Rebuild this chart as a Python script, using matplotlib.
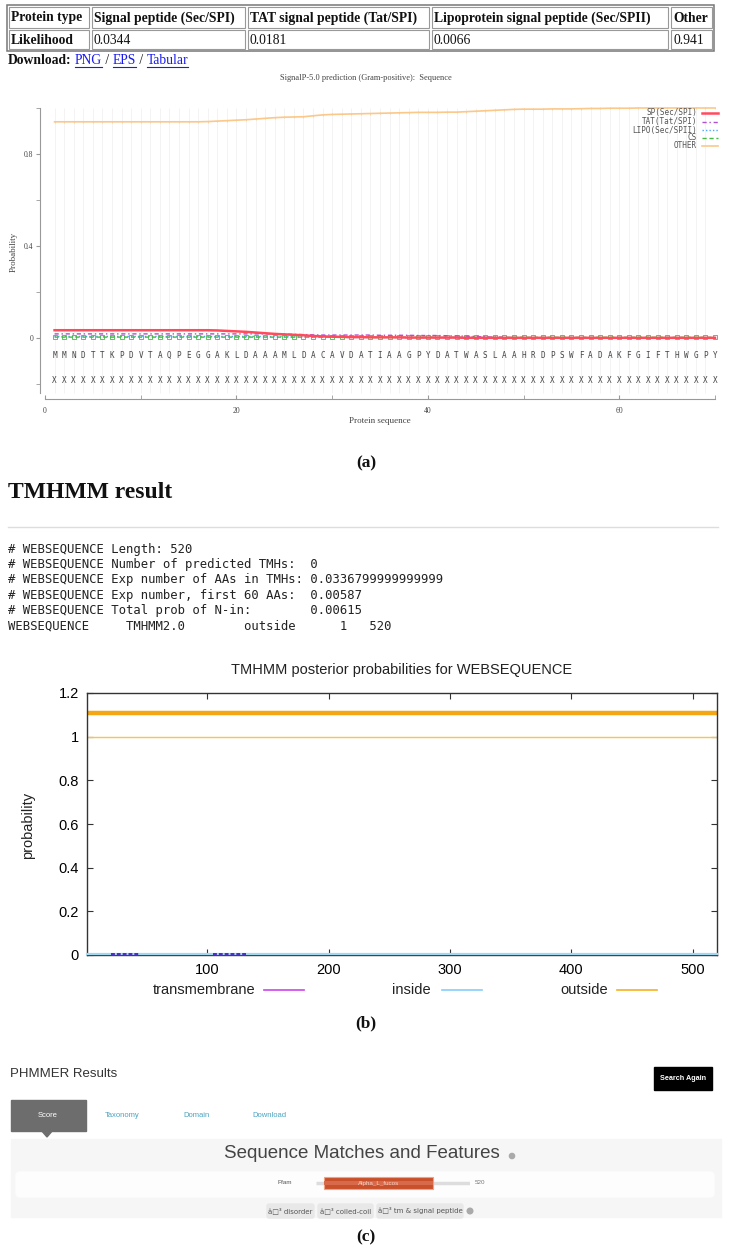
import matplotlib
matplotlib.use("Agg")
import matplotlib.pyplot as plt
from matplotlib.patches import Rectangle, Polygon, FancyBboxPatch, Circle
from matplotlib import font_manager

# ---- data -------------------------------------------------------------
protein_types = ["Signal peptide (Sec/SPI)", "TAT signal peptide (Tat/SPI)",
                 "Lipoprotein signal peptide (Sec/SPII)", "Other"]
likelihoods = ["0.0344", "0.0181", "0.0066", "0.941"]

sequence = "MMNDTTKPDVTAQPEGGAKLDAAAMLDACAVDATIAAGPYDATWASLAAHRDPSWFADAKFGIFTHWGPY"
positions = list(range(1, 71))

sp = [0.034, 0.034, 0.034, 0.034, 0.034, 0.034, 0.034, 0.034, 0.034, 0.034,
      0.034, 0.034, 0.034, 0.034, 0.034, 0.034, 0.034, 0.033, 0.031, 0.029,
      0.027, 0.024, 0.021, 0.018, 0.016, 0.014, 0.012, 0.009, 0.007, 0.006,
      0.005, 0.004, 0.004, 0.003, 0.003, 0.003, 0.003, 0.002, 0.002, 0.002,
      0.002, 0.002, 0.002, 0.001, 0.001, 0.001, 0.001, 0.001, 0.001, 0.001,
      0.001, 0.001, 0.001, 0.001, 0.001, 0.001, 0.001, 0.001, 0.001, 0.001,
      0.001, 0.001, 0.001, 0.001, 0.001, 0.001, 0.001, 0.001, 0.001, 0.001]
tat = [0.018, 0.018, 0.018, 0.018, 0.018, 0.018, 0.018, 0.018, 0.018, 0.018,
       0.018, 0.018, 0.018, 0.018, 0.018, 0.018, 0.018, 0.018, 0.018, 0.018,
       0.018, 0.018, 0.018, 0.018, 0.017, 0.016, 0.015, 0.014, 0.013, 0.013,
       0.013, 0.013, 0.013, 0.013, 0.012, 0.012, 0.012, 0.012, 0.011, 0.011,
       0.011, 0.010, 0.009, 0.008, 0.007, 0.005, 0.004, 0.003, 0.002, 0.002,
       0.001, 0.001, 0.001, 0.001, 0.001, 0.001, 0.001, 0.001, 0.001, 0.001,
       0.001, 0.001, 0.001, 0.001, 0.001, 0.001, 0.001, 0.001, 0.001, 0.001]
lipo = [0.007, 0.007, 0.007, 0.007, 0.007, 0.007, 0.007, 0.007, 0.007, 0.007,
        0.007, 0.007, 0.007, 0.007, 0.007, 0.007, 0.007, 0.007, 0.007, 0.007,
        0.007, 0.007, 0.007, 0.006, 0.006, 0.005, 0.005, 0.004, 0.004, 0.003,
        0.003, 0.003, 0.003, 0.003, 0.003, 0.003, 0.002, 0.002, 0.002, 0.002,
        0.002, 0.002, 0.002, 0.002, 0.002, 0.001, 0.001, 0.001, 0.001, 0.001,
        0.001, 0.001, 0.001, 0.001, 0.001, 0.001, 0.001, 0.001, 0.001, 0.001,
        0.001, 0.001, 0.001, 0.001, 0.001, 0.001, 0.001, 0.001, 0.001, 0.001]
cs = [0.004, 0.004, 0.004, 0.004, 0.004, 0.004, 0.004, 0.004, 0.004, 0.004,
      0.004, 0.004, 0.004, 0.004, 0.004, 0.004, 0.004, 0.004, 0.004, 0.004,
      0.004, 0.004, 0.004, 0.004, 0.004, 0.004, 0.004, 0.004, 0.004, 0.004,
      0.003, 0.003, 0.003, 0.003, 0.003, 0.003, 0.003, 0.003, 0.003, 0.003,
      0.003, 0.003, 0.003, 0.003, 0.003, 0.003, 0.003, 0.003, 0.003, 0.003,
      0.003, 0.003, 0.003, 0.003, 0.003, 0.003, 0.003, 0.003, 0.003, 0.003,
      0.003, 0.003, 0.003, 0.003, 0.003, 0.003, 0.003, 0.003, 0.003, 0.003]
other = [0.940, 0.940, 0.940, 0.940, 0.940, 0.940, 0.940, 0.940, 0.940, 0.940,
         0.940, 0.940, 0.940, 0.940, 0.940, 0.940, 0.941, 0.943, 0.945, 0.947,
         0.949, 0.952, 0.955, 0.958, 0.960, 0.961, 0.962, 0.966, 0.970, 0.972,
         0.973, 0.974, 0.975, 0.976, 0.977, 0.978, 0.979, 0.980, 0.981, 0.981,
         0.981, 0.982, 0.982, 0.984, 0.986, 0.988, 0.990, 0.992, 0.994, 0.995,
         0.995, 0.995, 0.996, 0.996, 0.996, 0.997, 0.998, 0.998, 0.999, 0.999,
         0.999, 1.000, 1.000, 1.000, 1.000, 1.000, 1.000, 1.000, 1.000, 1.000]

tmhmm_lines = [
    "# WEBSEQUENCE Length: 520",
    "# WEBSEQUENCE Number of predicted TMHs:  0",
    "# WEBSEQUENCE Exp number of AAs in TMHs: 0.0336799999999999",
    "# WEBSEQUENCE Exp number, first 60 AAs:  0.00587",
    "# WEBSEQUENCE Total prob of N-in:        0.00615",
    "WEBSEQUENCE     TMHMM2.0        outside      1   520",
]
seq_len = 520
outside_pos = [1, 520]
outside_prob = [0.998, 0.998]
inside_prob = [0.004, 0.004]
tm_starts = [21, 105]
tm_ends = [45, 132]
tm_prob = [0.006, 0.006]
outside_band = 1.11

pfam_start, pfam_end = 28, 396
pfam_name = "Alpha_L_fucos"

# ---- setup ------------------------------------------------------------
W, H = 733, 1251
fig = plt.figure(figsize=(W / 100, H / 100), dpi=100)

SERIF = "Liberation Serif"
SANS = "Liberation Sans"
MONO = "DejaVu Sans Mono"
names = {f.name for f in font_manager.fontManager.ttflist}
NARROW = "Liberation Sans Narrow" if "Liberation Sans Narrow" in names else SANS


def px_axes(x0, y0, x1, y1):
    return fig.add_axes([x0 / W, 1 - y1 / H, (x1 - x0) / W, (y1 - y0) / H])


# ---- (a) SignalP plot ---------------------------------------------------
ax = px_axes(45, 108, 715, 399)
ax.set_facecolor("none")
ax.set_xlim(0, 70)
ax.set_ylim(-0.265, 1.0)
ax.vlines(positions, -0.24, 1.0, color="#efefef", lw=0.5, zorder=0)

styles = {
    "SP(Sec/SPI)": dict(color="#ff4b5c", lw=1.8, ls="-"),
    "TAT(Tat/SPI)": dict(color="#b04fd0", lw=1.0, ls=(0, (3, 2, 1, 2))),
    "LIPO(Sec/SPII)": dict(color="#49a8ff", lw=1.0, ls=(0, (1, 1.5))),
    "CS": dict(color="#44bb44", lw=1.0, ls=(0, (3, 2))),
    "OTHER": dict(color="#fbc88a", lw=1.2, ls="-"),
}
series = {"SP(Sec/SPI)": sp, "TAT(Tat/SPI)": tat, "LIPO(Sec/SPII)": lipo,
          "CS": cs, "OTHER": other}
for name in ["OTHER", "LIPO(Sec/SPII)", "CS", "TAT(Tat/SPI)", "SP(Sec/SPI)"]:
    kw = dict(styles[name])
    if name == "CS":
        kw.update(marker="s", ms=2.2, mfc="none", mew=0.6)
    if name == "OTHER":
        kw.update(marker="|", ms=1.5, mew=0.5)
    ax.plot(positions, series[name], clip_on=False, **kw)

for p, ch in zip(positions, sequence):
    ax.text(p, -0.076, ch, ha="center", va="center", fontsize=5.5,
            family=MONO, color="#444444")
    ax.text(p, -0.184, "X", ha="center", va="center", fontsize=5.5,
            family=MONO, color="#444444")

for s in ["top", "right"]:
    ax.spines[s].set_visible(False)
ax.spines["left"].set_position(("outward", 3.6))
ax.spines["left"].set_bounds(-0.24, 1.0)
for s in ["left", "bottom"]:
    ax.spines[s].set_color("#999999")
    ax.spines[s].set_linewidth(0.8)
ax.set_yticks([0, 0.4, 0.8])
ax.set_yticklabels(["0", "0.4", "0.8"])
ax.set_yticks([-0.2, 0.2, 0.6, 1.0], minor=True)
ax.set_xticks([0, 20, 40, 60])
ax.set_xticks([10, 30, 50, 70], minor=True)
ax.tick_params(axis="y", which="both", direction="out", length=3,
               color="#999999", labelsize=5.5, labelcolor="#444444", pad=2)
ax.tick_params(axis="x", which="both", direction="in", length=3,
               color="#999999", labelsize=5.5, labelcolor="#444444", pad=6)
for lab in ax.get_xticklabels() + ax.get_yticklabels():
    lab.set_family(SERIF)

# ---- (b) TMHMM plot -----------------------------------------------------
bx = px_axes(87, 693, 717, 955)
bx.set_facecolor("none")
bx.set_xlim(1, seq_len)
bx.set_ylim(0, 1.2)
bx.hlines(outside_band, 1, seq_len, color="#f4a713", lw=3.2)
bx.plot(outside_pos, outside_prob, color="#f7c548", lw=1.0)
bx.plot(outside_pos, inside_prob, color="#9fd8f0", lw=1.6, clip_on=False,
        zorder=3)
bx.hlines(tm_prob, tm_starts, tm_ends, color="#4b2bd0", lw=1.4,
          linestyles=(0, (2, 1)), zorder=4)
bx.set_xticks([100, 200, 300, 400, 500])
bx.set_yticks([0, 0.2, 0.4, 0.6, 0.8, 1.0, 1.2])
bx.set_yticklabels(["0", "0.2", "0.4", "0.6", "0.8", "1", "1.2"])
bx.tick_params(which="both", direction="in", length=4, top=True, right=True,
               labelsize=10.5, pad=6, color="#333333")
for lab in bx.get_xticklabels() + bx.get_yticklabels():
    lab.set_family(NARROW)
for s in bx.spines.values():
    s.set_color("#333333")
    s.set_linewidth(1.0)

# ---- overlay in pixel coordinates ---------------------------------------
ov = fig.add_axes([0, 0, 1, 1])
ov.set_xlim(0, W)
ov.set_ylim(H, 0)
ov.axis("off")
ov.set_zorder(10)

# ---- (c) Pfam track (above overlay) -------------------------------------
cx = px_axes(316, 1174, 470, 1192)
cx.set_zorder(11)
cx.set_facecolor("none")
cx.set_xlim(1, seq_len)
cx.set_ylim(-1, 1)
cx.axis("off")
cx.plot([1, seq_len], [0, 0], color="#dddddd", lw=2.5, solid_capstyle="butt",
        zorder=1)
cx.barh(0, pfam_end - pfam_start, left=pfam_start, height=1.25,
        color="#c8512b", edgecolor="#f2a183", lw=0.8, zorder=3)
cx.barh(0, pfam_end - pfam_start, left=pfam_start, height=0.35,
        color="#d8694a", lw=0, zorder=3.5)
cx.text((pfam_start + pfam_end) / 2, 0, pfam_name, ha="center", va="center",
        fontsize=4.5, color="#f6d3c6", family=SANS, zorder=4)

# HTML table
ov.add_patch(Rectangle((7, 5), 707, 46, fill=False, ec="#777777", lw=1.1))
cols = [(9, 89), (92, 245), (248, 429), (432, 668), (671, 712)]
rows = [(7, 28), (30, 49)]
for (y0, y1) in rows:
    for (x0, x1) in cols:
        ov.add_patch(Rectangle((x0, y0), x1 - x0, y1 - y0, fill=False,
                               ec="#999999", lw=0.8))
header = ["Protein type"] + protein_types
values = ["Likelihood"] + likelihoods
for i, (x0, x1) in enumerate(cols):
    ov.text(x0 + 2, 18, header[i], fontsize=9.8, family=SERIF,
            weight="bold", va="center", color="#111111")
    ov.text(x0 + 2, 40, values[i], fontsize=9.8, family=SERIF,
            weight="bold" if i == 0 else "normal", va="center",
            color="#111111")

# download links
renderer = fig.canvas.get_renderer()
xcur = 8
parts = [("Download:", "#111111", True, False), (" ", None, False, False),
         ("PNG", "#1a1aee", False, True), (" / ", "#111111", False, False),
         ("EPS", "#1a1aee", False, True), (" / ", "#111111", False, False),
         ("Tabular", "#1a1aee", False, True)]
for txt, col, bold, link in parts:
    t = ov.text(xcur, 60, txt, fontsize=9.8, family=SERIF, va="center",
                color=col or "#111111", weight="bold" if bold else "normal")
    bb = t.get_window_extent(renderer)
    if link:
        ov.plot([bb.x0, bb.x1], [67, 67], color=col, lw=0.8)
    xcur = bb.x1

ov.text(366, 78, "SignalP-5.0 prediction (Gram-positive):  Sequence",
        fontsize=6, family=SERIF, color="#444444", ha="center", va="center")
ov.text(14, 252, "Probability", rotation=90, fontsize=6.5, family=SERIF,
        color="#444444", ha="center", va="center")
ov.text(380, 421, "Protein sequence", fontsize=6.5, family=SERIF,
        color="#444444", ha="center", va="center")

# SignalP legend
leg_y = [113, 121.5, 130, 138, 146]
for name, yy in zip(styles.keys(), leg_y):
    ov.text(697, yy, name, ha="right", va="center", fontsize=5.5,
            family=MONO, color="#555555")
    st = styles[name]
    ov.plot([702, 718], [yy, yy], color=st["color"], lw=st["lw"],
            ls=st["ls"])

ov.text(366, 463, "(a)", fontsize=12.5, family=SERIF, weight="bold",
        ha="center", va="center", color="#111111")

# TMHMM text block
ov.text(8, 493, "TMHMM result", fontsize=17, family=SERIF, weight="bold",
        va="center", color="#111111")
ov.plot([8, 718], [527, 527], color="#dddddd", lw=1)
for k, line in enumerate(tmhmm_lines):
    ov.text(8, 549 + k * 15.4, line, fontsize=8.8, family=MONO,
            va="center", color="#222222")

ov.text(402, 670, "TMHMM posterior probabilities for WEBSEQUENCE",
        fontsize=10.5, family=NARROW, ha="center", va="center",
        color="#222222")
ov.text(28, 825, "probability", rotation=90, fontsize=10.5, family=NARROW,
        ha="center", va="center", color="#222222")
tm_legend = [("transmembrane", 255, 264, "#cc44ee"),
             ("inside", 431, 442, "#87cefa"),
             ("outside", 608, 617, "#f5b120")]
for lab, xr, xl, col in tm_legend:
    ov.text(xr, 990, lab, ha="right", va="center", fontsize=10.5,
            family=NARROW, color="#222222")
    ov.plot([xl, xl + 40], [990, 990], color=col, lw=1.2)
ov.text(366, 1023, "(b)", fontsize=12.5, family=SERIF, weight="bold",
        ha="center", va="center", color="#111111")

# PHMMER panel
ov.text(10, 1074, "PHMMER Results", fontsize=9.5, family=SANS,
        va="center", color="#333333")
ov.add_patch(Rectangle((654, 1067), 58, 23, color="black"))
ov.text(683, 1078.5, "Search Again", fontsize=5.2, family=SANS,
        weight="bold", color="white", ha="center", va="center")
ov.add_patch(Rectangle((11, 1100), 75, 31, color="#6d6d6d"))
ov.add_patch(Polygon([(41, 1130), (53, 1130), (47, 1137)], color="#6d6d6d"))
ov.text(48, 1115.5, "Score", fontsize=5.5, family=SANS, color="white",
        ha="center", va="center")
for lab, xx in [("Taxonomy", 122), ("Domain", 196), ("Download", 269)]:
    ov.text(xx, 1115.5, lab, fontsize=5.5, family=SANS, color="#4aa3c0",
            ha="center", va="center")
ov.add_patch(Rectangle((11, 1139), 710, 78, color="#f6f6f6", zorder=0))
ov.add_patch(FancyBboxPatch((16, 1172), 698, 25,
                            boxstyle="round,pad=0,rounding_size=4",
                            color="#fdfdfd", zorder=0.5))
ov.text(362, 1154, "Sequence Matches and Features", fontsize=13.5,
        family=SANS, color="#444444", ha="center", va="center")
ov.add_patch(Circle((512, 1156), 2.6, color="#aaaaaa"))
ov.text(285, 1183, "Pfam", fontsize=4.5, family=SANS, color="#555555",
        ha="center", va="center")
ov.text(475, 1182, str(seq_len), fontsize=4.5, family=SANS,
        color="#777777", va="center")
badges = [("â\u25a1³ disorder", 267, 314), ("â\u25a1³ coiled-coil", 318, 373),
          ("â\u25a1³ tm & signal peptide", 377, 463)]
for lab, x0, x1 in badges:
    ov.add_patch(FancyBboxPatch((x0, 1204), x1 - x0, 14,
                                boxstyle="round,pad=0,rounding_size=2",
                                color="#e8e8e8"))
    ov.text((x0 + x1) / 2, 1211, lab, fontsize=5, family=["DejaVu Sans"],
            color="#555555", ha="center", va="center")
ov.add_patch(Circle((470, 1211), 2.8, color="#aaaaaa"))
ov.text(366, 1237, "(c)", fontsize=12.5, family=SERIF, weight="bold",
        ha="center", va="center", color="#111111")

fig.savefig("out.png", dpi=100)
